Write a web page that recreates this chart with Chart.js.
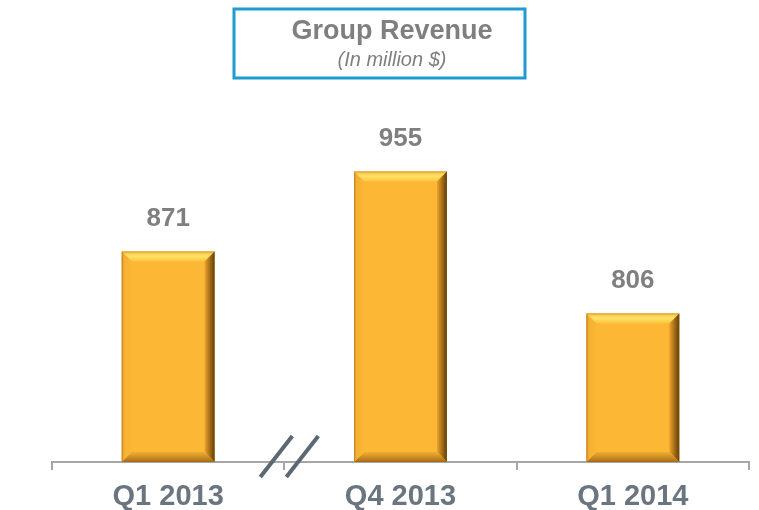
<!DOCTYPE html>
<html>
<head>
<meta charset="utf-8">
<script src="https://cdn.jsdelivr.net/npm/chart.js@4.4.1/dist/chart.umd.min.js"></script>
<style>
  html, body { margin: 0; padding: 0; background: #fff; }
  #wrap { width: 759px; height: 510px; }
</style>
</head>
<body>
<div id="wrap"><canvas id="revenueChart" width="759" height="510"></canvas></div>
<script>
const quarters = ['Q1 2013', 'Q4 2013', 'Q1 2014'];
const revenue = [871, 955, 806];
const chartTitle = 'Group Revenue';
const chartSubtitle = '(In million $)';

const GRAY = '#7f7f7f';
const FONT = '"Liberation Sans", Arial, sans-serif';

function poly(ctx, pts, fill) {
  ctx.beginPath();
  ctx.moveTo(pts[0][0], pts[0][1]);
  for (let i = 1; i < pts.length; i++) ctx.lineTo(pts[i][0], pts[i][1]);
  ctx.closePath();
  ctx.fillStyle = fill;
  ctx.fill();
}

function grad(ctx, x0, y0, x1, y1, stops) {
  const g = ctx.createLinearGradient(x0, y0, x1, y1);
  stops.forEach(([o, c]) => g.addColorStop(o, c));
  return g;
}

// bevel edges + labels + title box + axis break
const decor = {
  id: 'decor',
  afterDatasetsDraw(chart) {
    const ctx = chart.ctx;
    const meta = chart.getDatasetMeta(0);
    const area = chart.chartArea;
    ctx.save();
    meta.data.forEach((bar, i) => {
      const x0 = bar.x - bar.width / 2, x1 = bar.x + bar.width / 2;
      const y0 = bar.y, y1 = Math.min(bar.base, area.bottom);
      const b = 10;
      poly(ctx, [[x0, y0], [x1, y0], [x1 - b, y0 + b], [x0 + b, y0 + b]],
        grad(ctx, 0, y0, 0, y0 + b, [[0, '#f7b83a'], [0.45, '#ffe46a'], [1, '#fdc33a']]));
      poly(ctx, [[x1, y0], [x1, y1], [x1 - b, y1 - b], [x1 - b, y0 + b]],
        grad(ctx, x1 - b, 0, x1, 0, [[0, '#eba42c'], [0.6, '#9a6614'], [1, '#5e3c08']]));
      poly(ctx, [[x0, y1], [x1, y1], [x1 - b, y1 - b], [x0 + b, y1 - b]],
        grad(ctx, 0, y1 - b, 0, y1, [[0, '#f3ae30'], [1, '#a86e16']]));
      poly(ctx, [[x0, y0], [x0 + b, y0 + b], [x0 + b, y1 - b], [x0, y1]],
        grad(ctx, x0, 0, x0 + b, 0, [[0, '#dc982a'], [0.3, '#f6b033'], [1, '#fcb734']]));
      ctx.strokeStyle = 'rgba(150,100,30,0.35)';
      ctx.lineWidth = 1;
      ctx.strokeRect(x0 + 0.5, y0 + 0.5, bar.width - 1, y1 - y0 - 1);

      ctx.fillStyle = GRAY;
      ctx.font = 'bold 26px ' + FONT;
      ctx.textAlign = 'center';
      ctx.textBaseline = 'middle';
      ctx.fillText(String(revenue[i]), bar.x, y0 - 33);
    });

    // axis break marks between first and second category
    const xs = chart.scales.x;
    const bx = (xs.getPixelForValue(0) + xs.getPixelForValue(1)) / 2 + 5;
    const by = xs.top - 6;
    ctx.strokeStyle = '#5d6873';
    ctx.lineWidth = 4;
    [-13, 13].forEach((dx) => {
      ctx.beginPath();
      ctx.moveTo(bx + dx - 16, by + 21);
      ctx.lineTo(bx + dx + 16, by - 20);
      ctx.stroke();
    });

    // title box
    ctx.strokeStyle = '#1f9bcf';
    ctx.lineWidth = 3;
    ctx.strokeRect(234, 9, 291, 69);
    ctx.fillStyle = GRAY;
    ctx.textAlign = 'center';
    ctx.textBaseline = 'middle';
    ctx.font = 'bold 27px ' + FONT;
    ctx.fillText(chartTitle, 392, 32);
    ctx.font = 'italic 20px ' + FONT;
    ctx.fillText(chartSubtitle, 392, 60);
    ctx.restore();
  }
};

new Chart(document.getElementById('revenueChart'), {
  type: 'bar',
  data: {
    labels: quarters,
    datasets: [{
      data: revenue,
      backgroundColor: '#fcb734',
      borderWidth: 0,
      barPercentage: 0.4,
      categoryPercentage: 1
    }]
  },
  options: {
    responsive: false,
    animation: false,
    layout: { padding: { top: 100, left: 52, right: 10, bottom: 0 } },
    plugins: { legend: { display: false }, tooltip: { enabled: false } },
    scales: {
      y: { display: false, min: 650, max: 1030 },
      x: {
        afterFit(scale) { scale.height = 48; },
        border: { display: true, color: '#a6a6a6', width: 2 },
        grid: { display: true, drawOnChartArea: false, drawTicks: true, tickLength: 8, color: '#a6a6a6', lineWidth: 2, offset: true },
        ticks: { color: '#6b7580', font: { family: FONT, size: 29, weight: 'bold' }, padding: 10 }
      }
    }
  },
  plugins: [decor]
});
</script>
</body>
</html>
